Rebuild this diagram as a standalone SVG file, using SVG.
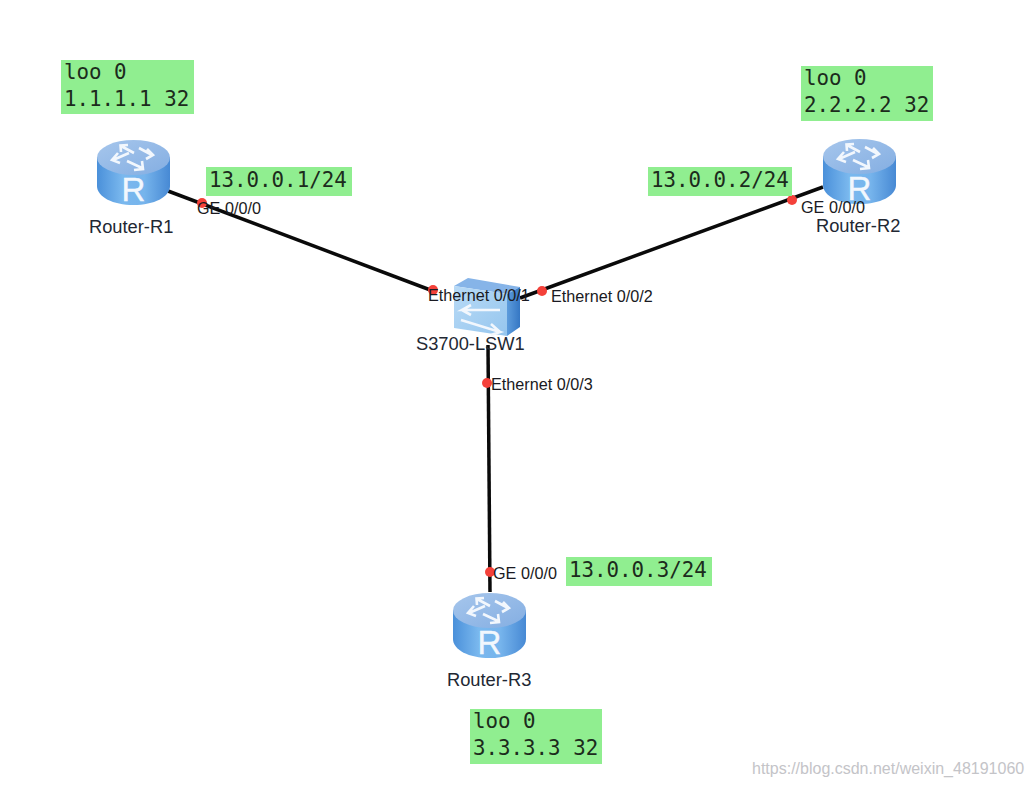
<svg xmlns="http://www.w3.org/2000/svg" width="1033" height="787" viewBox="0 0 1033 787">
<style>
.note{fill:#90ee90}
.m{font-family:"DejaVu Sans Mono",monospace;font-size:20.8px;fill:#1c2b1c}
.n{font-family:"Liberation Sans",Arial,sans-serif;font-size:18.300px;fill:#222833}
.p{font-family:"Liberation Sans",Arial,sans-serif;font-size:16.200px;fill:#1a1a22}
.w{font-family:"Liberation Sans",Arial,sans-serif;font-size:16px;fill:#c4c4c8}
.l{stroke:#0a0a0a;stroke-width:3.500;fill:none}
.d{fill:#f4413a}
.a{fill:none;stroke:#f2f7fd;stroke-width:2.600;stroke-linejoin:miter}
</style>
<defs>
<linearGradient id="body" x1="0" x2="1" y1="0" y2="0">
<stop offset="0" stop-color="#4a90da"/><stop offset="0.35" stop-color="#7ab8ee"/><stop offset="0.65" stop-color="#76b4ec"/><stop offset="1" stop-color="#4789d4"/>
</linearGradient>
<linearGradient id="top" x1="0" x2="1" y1="0" y2="1">
<stop offset="0" stop-color="#a6c6ec"/><stop offset="1" stop-color="#84aee2"/>
</linearGradient>
<linearGradient id="sw" x1="0" x2="1" y1="0" y2="1">
<stop offset="0" stop-color="#b8daf6"/><stop offset="1" stop-color="#96c6ee"/>
</linearGradient>
<linearGradient id="side" x1="0" x2="1" y1="0" y2="0">
<stop offset="0" stop-color="#5d9cdc"/><stop offset="1" stop-color="#3577c4"/>
</linearGradient>
<g id="router">
<path d="M0 18V47C0 58 16 66 36.500 66S73 58 73 47V18Z" fill="url(#body)"/>
<ellipse cx="36.500" cy="18.500" rx="36.500" ry="17.500" fill="url(#top)"/>
<path class="a" d="M37 14 24 7M24 13 23.500 6.500 31 6"/>
<path class="a" d="M42 9 55 16M50 10 56 16 49 20"/>
<path class="a" d="M32 14 16 21M21 14 15 21 23 24"/>
<path class="a" d="M30 22 45 29M45 22 46 30 37 31"/>
<text x="36.500" y="62" text-anchor="middle" font-family="Liberation Sans,Arial,sans-serif" font-size="33" fill="#f2f7fd" stroke="#f2f7fd" stroke-width="0.400">R</text>
</g>
</defs>
<rect width="1033" height="787" fill="#ffffff"/>
<g id="connectors">
<path class="l" d="M168 191 433 291"/>
<path class="l" d="M823 187 520 298"/>
<path class="l" d="M488 345 490 592"/>
<circle class="d" cx="202" cy="203" r="5"/>
<circle class="d" cx="433" cy="290" r="5"/>
<circle class="d" cx="542" cy="291" r="5"/>
<circle class="d" cx="792" cy="200" r="5"/>
<circle class="d" cx="487" cy="383" r="5"/>
<circle class="d" cx="490" cy="572" r="5"/>
</g>
<g id="router-r1"><use href="#router" x="97" y="139"/><text class="n" x="89" y="233">Router-R1</text></g>
<g id="router-r2"><use href="#router" x="823" y="138"/><text class="n" x="816" y="232">Router-R2</text></g>
<g id="router-r3"><use href="#router" x="453" y="592"/><text class="n" x="447" y="686">Router-R3</text></g>
<g id="switch">
<path d="M454 286 468 278 520 287 507 294Z" fill="#86b4e8"/>
<path d="M507 294 520 287 520 327 507 336Z" fill="url(#side)"/>
<path d="M454 286 507 294 507 336 454 328Z" fill="url(#sw)"/>
<path class="a" d="M500 310 462 310 471 305M462 310 471 315"/>
<path class="a" d="M461 320 500 332 491 335M500 332 491 324"/>
<text class="n" x="416" y="350">S3700-LSW1</text>
</g>
<g id="port-labels">
<text class="p" x="197" y="214">GE 0/0/0</text>
<text class="p" x="428" y="301">Ethernet 0/0/1</text>
<text class="p" x="551" y="302">Ethernet 0/0/2</text>
<text class="p" x="801" y="213">GE 0/0/0</text>
<text class="p" x="491" y="390">Ethernet 0/0/3</text>
<text class="p" x="493" y="579">GE 0/0/0</text>
</g>
<g id="note-r1">
<rect class="note" x="61" y="60" width="133" height="54"/>
<text class="m" x="64" y="79">loo 0</text><text class="m" x="64" y="106">1.1.1.1 32</text>
</g>
<g id="note-r2">
<rect class="note" x="801" y="66" width="132" height="55"/>
<text class="m" x="804" y="85">loo 0</text><text class="m" x="804" y="112">2.2.2.2 32</text>
</g>
<g id="note-r3">
<rect class="note" x="470" y="709" width="132" height="55"/>
<text class="m" x="473" y="728">loo 0</text><text class="m" x="473" y="755">3.3.3.3 32</text>
</g>
<g id="ip1"><rect class="note" x="206" y="167" width="146" height="29"/><text class="m" x="209" y="187">13.0.0.1/24</text></g>
<g id="ip2"><rect class="note" x="648" y="167" width="144" height="29"/><text class="m" x="651" y="187">13.0.0.2/24</text></g>
<g id="ip3"><rect class="note" x="566" y="557" width="146" height="29"/><text class="m" x="569" y="577">13.0.0.3/24</text></g>
<text class="w" x="752" y="774">https://blog.csdn.net/weixin_48191060</text>
</svg>
